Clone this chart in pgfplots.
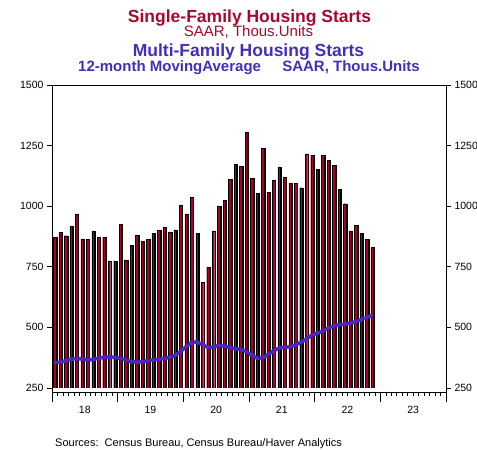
\documentclass[border=0pt]{standalone}
\usepackage{fontspec}
\setmainfont{Liberation Sans}
\usepackage{pgfplots}
\pgfplotsset{compat=1.18}
\usepackage{pgfplotstable}
\definecolor{barred}{RGB}{170,0,40}
\definecolor{linblue}{RGB}{72,40,190}
\definecolor{titred}{RGB}{165,10,45}
\definecolor{titblue}{RGB}{70,45,185}

\pgfplotstableread{
m v
0 872
1 891
2 878
3 917
4 968
5 865
6 862
7 898
8 872
9 872
10 774
11 774
12 924
13 778
14 837
15 882
16 856
17 863
18 888
19 900
20 915
21 894
22 902
23 1005
24 968
25 1037
26 888
27 687
28 748
29 898
30 1001
31 1023
32 1112
33 1173
34 1165
35 1306
36 1115
37 1052
38 1239
39 1058
40 1108
41 1162
42 1120
43 1093
44 1093
45 1076
46 1216
47 1211
48 1152
49 1210
50 1188
51 1169
52 1070
53 1010
54 898
55 922
56 889
57 863
58 829
}\sfdata

\pgfplotstableread{
m v
0 354
1 356
2 362
3 368
4 371
5 370
6 365
7 367
8 373
9 376
10 377
11 376
12 372
13 366
14 358
15 356
16 358
17 362
18 365
19 368
20 372
21 376
22 384
23 400
24 420
25 437
26 440
27 428
28 417
29 418
30 426
31 423
32 416
33 412
34 409
35 400
36 386
37 372
38 374
39 388
40 403
41 414
42 418
43 420
44 428
45 438
46 452
47 468
48 476
49 484
50 497
51 506
52 511
53 513
54 518
55 523
56 532
57 540
58 550
}\mfdata

\begin{document}
\begin{tikzpicture}
\path[use as bounding box] (0,0) rectangle (477pt,-450pt);
\pgfplotsset{
  base/.style={scale only axis, width=394pt, height=307.5pt,
    at={(52pt,-392.5pt)}, anchor=south west,
    xmin=-0.5, xmax=71.5, ymin=231, ymax=1500,
    tick align=outside,
    /pgf/number format/assume math mode=true,
    /pgf/number format/1000 sep={},
    ticklabel style={font=\fontsize{10.5}{12}\selectfont},
    axis line style={line width=0.8pt},
    every tick/.style={black, line width=0.6pt}},
}
% bars + x axis + frame
\begin{axis}[base, axis on top, ytick=\empty,
  xtick={-0.5,11.5,...,71.5},
  xticklabels={18,19,20,21,22,23,{}},
  xticklabel style={xshift=32.83pt, yshift=-1pt},
  minor xtick={0.5,1.5,...,70.5},
  xtick pos=left,
  major tick length=9.5pt, minor tick length=3.5pt]
\addplot[ybar, bar width=2.5pt, fill=barred, draw=black, line width=0.35pt,
  preaction={fill=gray!40, transform canvas={xshift=0.8pt}}]
  table[x=m, y=v] {\sfdata};
\fill[white] (axis cs:-0.5,231) rectangle (axis cs:71.5,250);
\end{axis}
% line + left y axis
\begin{axis}[base, axis x line=none, axis y line*=left,
  ytick={250,500,...,1500}, major tick length=5pt]
\addplot[linblue, line width=3.6pt, line join=round, line cap=round]
  table[x=m, y=v] {\mfdata};
\end{axis}
% right y axis
\begin{axis}[base, axis x line=none, axis y line*=right,
  ytick={250,500,...,1500}, major tick length=5pt]
\end{axis}
% titles
\node[anchor=base, inner sep=0, text=titred, font=\bfseries\fontsize{17.5}{20}\selectfont] at (249.5pt,-22.2pt) {Single-Family Housing Starts};
\node[anchor=base, inner sep=0, text=titred, font=\fontsize{15}{18}\selectfont] at (248.5pt,-36.5pt) {SAAR, Thous.Units};
\node[anchor=base, inner sep=0, text=titblue, font=\bfseries\fontsize{17.5}{20}\selectfont] at (248.5pt,-56.7pt) {Multi-Family Housing Starts};
\node[anchor=base west, inner sep=0, text=titblue, font=\bfseries\fontsize{15}{18}\selectfont] at (78pt,-71.7pt) {12-month MovingAverage};
\node[anchor=base east, inner sep=0, text=titblue, font=\bfseries\fontsize{15}{18}\selectfont] at (420pt,-71.7pt) {SAAR, Thous.Units};
\node[anchor=base west, inner sep=0, font=\fontsize{11}{13}\selectfont] at (55pt,-446pt) {Sources:\ \ Census Bureau, Census Bureau/Haver Analytics};
\end{tikzpicture}
\end{document}
